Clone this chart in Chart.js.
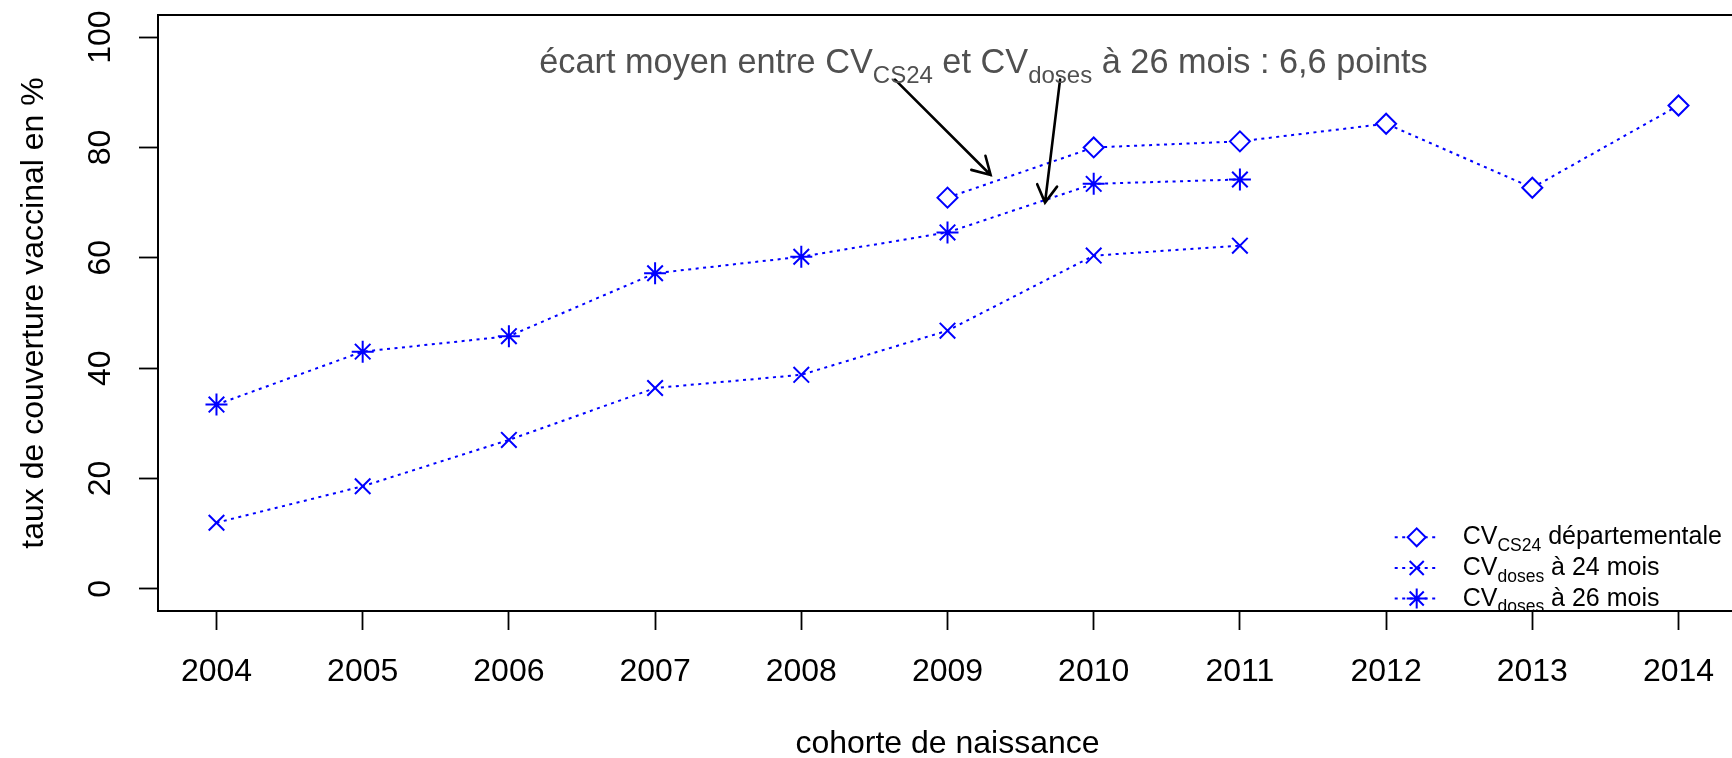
<!DOCTYPE html>
<html>
<head>
<meta charset="utf-8">
<title>Couverture vaccinale par cohorte</title>
<script src="https://cdn.jsdelivr.net/npm/chart.js@4.4.1/dist/chart.umd.min.js"></script>
<style>
  html, body { margin: 0; padding: 0; background: #fff; overflow: hidden; }
  #wrap { width: 1740px; height: 758px; }
</style>
</head>
<body>
<div id="wrap"><canvas id="chart" width="1740" height="758"></canvas></div>
<script>
// cohorts and values (% coverage)
const years = [2004, 2005, 2006, 2007, 2008, 2009, 2010, 2011, 2012, 2013, 2014];
const cvCS24 = [null, null, null, null, null, 70.9, 80.0, 81.1, 84.3, 72.7, 87.6];
const cvDoses24 = [12.0, 18.6, 27.0, 36.4, 38.8, 46.8, 60.4, 62.2, null, null, null];
const cvDoses26 = [33.4, 43.0, 45.8, 57.2, 60.2, 64.6, 73.4, 74.2, null, null, null];
const yTicks = [0, 20, 40, 60, 80, 100];

// text pieces: [text, isSubscript]
const legendNames = [
  [['CV'], ['CS24', true], [' départementale']],
  [['CV'], ['doses', true], [' à 24 mois']],
  [['CV'], ['doses', true], [' à 26 mois']]
];
const legendStyles = ['rectRot', 'crossRot', 'star'];
const note = [['écart moyen entre CV'], ['CS24', true], [' et CV'], ['doses', true], [' à 26 mois : 6,6 points']];
// note anchor and arrows, in data units
const notePos = [2009.246, 93.5];
const arrows = [
  [[2008.641, 92.3], [2009.295, 75.0]],
  [[2009.770, 92.3], [2009.667, 70.0]]
];

const FONT = "'Liberation Sans', Arial, Helvetica, sans-serif";
const BLUE = '#0000ff';
Chart.defaults.font.family = FONT;
Chart.defaults.color = '#000';

function pts(vals) {
  return years.map((x, i) => ({ x: x, y: vals[i] }));
}

function series(label, vals, style, radius, fill) {
  return {
    label: label,
    data: pts(vals),
    borderColor: BLUE,
    borderWidth: 2,
    borderDash: [3, 4.5],
    pointStyle: style,
    pointRadius: radius,
    pointHoverRadius: radius,
    pointBorderColor: BLUE,
    pointBackgroundColor: fill,
    pointBorderWidth: 2,
    tension: 0,
    fill: false,
    spanGaps: false
  };
}

function richText(ctx, parts, x, y, size, align, drop) {
  const sub = size * 0.7;
  const widths = parts.map(p => {
    ctx.font = (p[1] ? sub : size) + 'px ' + FONT;
    return ctx.measureText(p[0]).width;
  });
  let cx = x;
  if (align === 'center') cx -= widths.reduce((a, b) => a + b, 0) / 2;
  ctx.textAlign = 'left';
  ctx.textBaseline = 'alphabetic';
  parts.forEach((p, i) => {
    ctx.font = (p[1] ? sub : size) + 'px ' + FONT;
    ctx.fillText(p[0], cx, p[1] ? y + size * drop : y);
    cx += widths[i];
  });
}

function arrow(ctx, x0, y0, x1, y1) {
  const a = Math.atan2(y1 - y0, x1 - x0), L = 20, h = Math.PI / 6;
  ctx.beginPath();
  ctx.moveTo(x0, y0);
  ctx.lineTo(x1, y1);
  ctx.moveTo(x1 - L * Math.cos(a - h), y1 - L * Math.sin(a - h));
  ctx.lineTo(x1, y1);
  ctx.lineTo(x1 - L * Math.cos(a + h), y1 - L * Math.sin(a + h));
  ctx.stroke();
}

const extras = {
  id: 'extras',
  afterDatasetsDraw(chart) {
    const ctx = chart.ctx, area = chart.chartArea;
    const xs = chart.scales.x, ys = chart.scales.y;
    ctx.save();

    // plot box
    ctx.strokeStyle = '#000';
    ctx.lineWidth = 2;
    ctx.setLineDash([]);
    ctx.strokeRect(area.left, area.top, area.right - area.left, area.bottom - area.top);

    // arrows + note
    ctx.lineWidth = 2.6;
    ctx.lineCap = 'round';
    ctx.lineJoin = 'miter';
    arrows.forEach(a => {
      arrow(ctx, xs.getPixelForValue(a[0][0]), ys.getPixelForValue(a[0][1]),
        xs.getPixelForValue(a[1][0]), ys.getPixelForValue(a[1][1]));
    });
    ctx.fillStyle = '#505050';
    richText(ctx, note, xs.getPixelForValue(notePos[0]), ys.getPixelForValue(notePos[1]), 34.3, 'center', 0.28);

    // legend (bottom right, no frame)
    const mx = area.right - 320.3, tx = area.right - 274.3;
    const rows = [area.bottom - 73.7, area.bottom - 43, area.bottom - 12.5];
    rows.forEach((ry, i) => {
      ctx.strokeStyle = BLUE;
      ctx.lineWidth = 2;
      ctx.lineCap = 'butt';
      ctx.setLineDash([3, 4.5]);
      ctx.beginPath();
      ctx.moveTo(mx - 22, ry);
      ctx.lineTo(mx + 20, ry);
      ctx.stroke();
      ctx.setLineDash([]);
      ctx.fillStyle = '#fff';
      Chart.helpers.drawPoint(ctx, { pointStyle: legendStyles[i], radius: i === 0 ? 9 : 10, rotation: 0, borderWidth: 2 }, mx, ry);
      ctx.fillStyle = '#000';
      richText(ctx, legendNames[i], tx, ry + 7, 25, 'left', 0.26);
    });
    ctx.restore();
  }
};

new Chart(document.getElementById('chart'), {
  type: 'line',
  data: {
    datasets: [
      series('CV CS24 départementale', cvCS24, 'rectRot', 10, '#ffffff'),
      series('CV doses à 24 mois', cvDoses24, 'crossRot', 11, 'rgba(0,0,0,0)'),
      series('CV doses à 26 mois', cvDoses26, 'star', 11, 'rgba(0,0,0,0)')
    ]
  },
  options: {
    responsive: false,
    animation: false,
    events: [],
    layout: { autoPadding: false, padding: { left: 0, top: 15, right: 3, bottom: 0 } },
    plugins: { legend: { display: false }, tooltip: { enabled: false } },
    scales: {
      x: {
        type: 'linear',
        min: 2003.6,
        max: 2014.4,
        afterBuildTicks: s => { s.ticks = years.map(v => ({ value: v })); },
        afterFit: s => { s.height = 147; s.paddingLeft = 0; s.paddingRight = 0; },
        grid: { drawOnChartArea: false, drawTicks: true, tickLength: 19, tickColor: '#000', tickWidth: 1.8 },
        border: { display: false },
        ticks: {
          autoSkip: false,
          maxRotation: 0,
          padding: 23,
          font: { size: 32, lineHeight: 1.2 },
          callback: v => String(v)
        },
        title: {
          display: true,
          text: 'cohorte de naissance',
          font: { size: 32, lineHeight: 0.85 },
          padding: 0
        }
      },
      y: {
        min: -4,
        max: 104,
        afterBuildTicks: s => { s.ticks = yTicks.map(v => ({ value: v })); },
        afterFit: s => { s.width = 158; s.paddingTop = 0; s.paddingBottom = 0; },
        grid: { drawOnChartArea: false, drawTicks: true, tickLength: 19, tickColor: '#000', tickWidth: 1.8 },
        border: { display: false },
        ticks: {
          autoSkip: false,
          minRotation: 90,
          maxRotation: 90,
          crossAlign: 'center',
          padding: 11,
          font: { size: 32, lineHeight: 1.2 },
          callback: v => String(v)
        },
        title: {
          display: true,
          text: 'taux de couverture vaccinal en %',
          font: { size: 32, lineHeight: 0.85 },
          padding: { top: 20.4, bottom: 0 }
        }
      }
    }
  },
  plugins: [extras]
});
</script>
</body>
</html>
